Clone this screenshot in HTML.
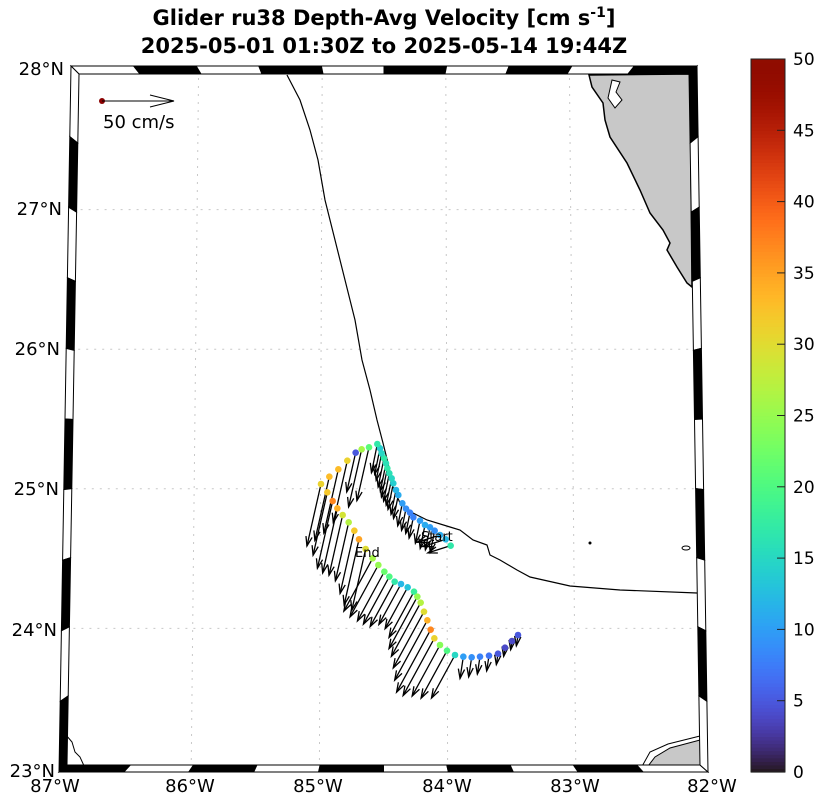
<!DOCTYPE html>
<html><head><meta charset="utf-8"><style>
html,body{margin:0;padding:0;background:#fff;}
svg{display:block;font-family:"DejaVu Sans","Liberation Sans",sans-serif;}
</style></head><body>
<svg id="s" width="816" height="796" viewBox="0 0 816 796" xmlns="http://www.w3.org/2000/svg">
<g id="grid"></g>
<g id="land"></g>
<g id="frame"></g>
<g id="arrows"></g>
<g id="dots"></g>
<text x="384" y="25" text-anchor="middle" font-size="21" font-weight="bold">Glider ru38 Depth-Avg Velocity [cm s<tspan dy="-8" font-size="14">-1</tspan><tspan dy="8">]</tspan></text>
<text x="384" y="53" text-anchor="middle" font-size="21" font-weight="bold">2025-05-01 01:30Z to 2025-05-14 19:44Z</text>
<g font-size="18" text-anchor="end">
<text x="64" y="75">28°N</text><text x="62" y="215">27°N</text><text x="60" y="355">26°N</text>
<text x="59" y="495">25°N</text><text x="57" y="636">24°N</text><text x="55" y="777">23°N</text>
</g>
<g font-size="18" text-anchor="middle">
<text x="55" y="792">87°W</text><text x="190" y="792">86°W</text><text x="318" y="792">85°W</text>
<text x="447" y="792">84°W</text><text x="575" y="792">83°W</text><text x="712" y="792">82°W</text>
</g>
<circle cx="102" cy="101" r="3" fill="#8b0000"/>
<g stroke="#000" stroke-width="1" fill="none"><line x1="102" y1="101" x2="174" y2="101"/><polyline points="150,95 174,101 150,107"/></g>
<text x="103" y="128" font-size="18">50 cm/s</text>
<g id="lab"><text x="421" y="541" font-size="13">Start</text>
<text x="355" y="557" font-size="13">End</text></g>
<g id="cb"></g>
</svg>
<script>
(function(){
const NS='http://www.w3.org/2000/svg';
function el(p,t,a){const e=document.createElementNS(NS,t);for(const k in a)e.setAttribute(k,a[k]);document.getElementById(p).appendChild(e);return e;}
function turbo(t){t=Math.max(0,Math.min(1,t));
let r=0.13572138+t*(4.61539260+t*(-42.66032258+t*(132.13108234+t*(-152.94239396+t*59.28637943))));
let g=0.09140261+t*(2.19418839+t*(4.84296658+t*(-14.18503333+t*(4.27729857+t*2.82956604))));
let b=0.10667330+t*(12.64194608+t*(-60.58204836+t*(110.36276771+t*(-89.90310912+t*27.34824973))));
const c=v=>Math.round(Math.max(0,Math.min(1,v))*255);return 'rgb('+c(r)+','+c(g)+','+c(b)+')';}
function P(lon,lat){const t=(28-lat)/5;const xl=75-12*t,xr=693+11*t;return [xl+(lon+87)/5*(xr-xl),70+t*698];}
for(let lon=-86;lon<=-83;lon++){const a=P(lon,28),b=P(lon,23);el('grid','line',{x1:a[0],y1:a[1],x2:b[0],y2:b[1],stroke:'#c8c8c8','stroke-dasharray':'2,6'});}
for(let lat=24;lat<=27;lat++){const a=P(-87,lat),b=P(-82,lat);el('grid','line',{x1:a[0],y1:a[1],x2:b[0],y2:b[1],stroke:'#c8c8c8','stroke-dasharray':'2,6'});}
el('land','path',{d:'M589,75 L592,87 L603,103 L605,120 L610,137 L627,163 L640,190 L650,213 L663,230 L670,243 L667,250 L677,267 L687,283 L692,287 L690,74 Z',fill:'#c8c8c8',stroke:'#000','stroke-width':1.5});
el('land','path',{d:'M612,80 L620,82 L616,92 L622,100 L615,108 L608,98 Z',fill:'#fff',stroke:'#000','stroke-width':1});
el('land','path',{d:'M645,770 L655,757 L670,748 L700,740 L702,770 Z',fill:'#c8c8c8',stroke:'#000','stroke-width':1});
el('land','path',{d:'M640,770 L650,752 L668,744 L700,736',fill:'none',stroke:'#000','stroke-width':1});
el('land','path',{d:'M66,735 L72,742 L75,752 L80,757 L85,768',fill:'none',stroke:'#000','stroke-width':1});
el('land','path',{d:'M287,75 L300,100 L310,130 L318,160 L325,200 L335,240 L345,280 L355,320 L362,360 L370,390 L377,420 L383,443 L388,463 L393,487 L400,503 L413,513 L427,520 L450,527 L460,530 L473,540 L487,545 L490,555 L500,560 L517,570 L530,577 L570,586 L620,590 L697,593',fill:'none',stroke:'#000','stroke-width':1.2});
el('land','circle',{cx:590,cy:543,r:1.5,fill:'#000'});el('land','ellipse',{cx:686,cy:548,rx:4,ry:2,fill:'none',stroke:'#000'});
const O=[[71,66],[697,66],[708,772],[59,772]],I=[[79,74],[689,74],[700,765],[67,765]];
function L(a,b,t){return [a[0]+(b[0]-a[0])*t,a[1]+(b[1]-a[1])*t];}
function seg(o1,o2,i1,i2,startBlack){for(let k=0;k<10;k++){const t0=k/10,t1=(k+1)/10;const p=[L(o1,o2,t0),L(o1,o2,t1),L(i1,i2,t1),L(i1,i2,t0)];
el('frame','polygon',{points:p.map(q=>q.join(',')).join(' '),fill:((k%2==0)==startBlack)?'#000':'#fff',stroke:'#000','stroke-width':1});}}
seg(O[0],O[1],I[0],I[1],false);seg(O[3],O[2],I[3],I[2],true);seg(O[0],O[3],I[0],I[3],false);seg(O[1],O[2],I[1],I[2],true);
const D=[[452,347,17],[437,328,12],[420,315,11],[404,302,9],[390,292,10],[375,285,11],[360,272,10],[340,262,8],[330,248,8],[318,236,9],[307,220,10],[295,195,11],[288,180,12],[280,160,14],[275,145,15],[268,130,16],[262,115,17],[258,100,16],[252,85,17],[245,70,15],[240,55,14],[232,42,17],
[207,52,21],[185,58,26],[167,68,5],[142,92,31],[115,118,33],[88,140,33],[63,162,31],[82,187,32],[98,213,37],[112,235,34],[128,255,29],[146,277,27],[163,302,32],[177,328,35],[197,357,30],[218,385,26],[235,405,25],[253,425,22],[268,440,20],[284,455,17],[303,462,12],[323,472,13],[342,485,18],[352,500,25],[362,518,27],[372,545,30],[382,571,34],[392,599,37],[403,625,31],[420,645,24],[441,662,20],[465,675,15],[490,680,10],[515,682,9],[540,680,8],[567,677,7],[594,671,5],[615,653,4],[636,633,4],[654,615,5]];
D.forEach((d,i)=>{const x=d[0]/3+300,y=d[1]/3+430;let dx,dy,len;
 if(i<3){dx=-0.95;dy=0.3;len=24;}
 else if(i<22){dx=-0.2;dy=0.98;len=14+d[2]*0.9;}
 else if(i<37){dx=-0.22;dy=0.97;len=36+d[2]*0.9;}
 else if(i<54){dx=-0.48;dy=0.88;len=34+d[2]*1.0;}
 else {dx=-0.15;dy=0.99;len=d[2]*2.2;}
 const x2=x+dx*len,y2=y+dy*len;const a=Math.atan2(y-y2,x-x2),h=10;
 el('arrows','line',{x1:x,y1:y,x2:x2,y2:y2,stroke:'#000','stroke-width':1.3});
 el('arrows','polyline',{points:(x2+h*Math.cos(a+0.32))+','+(y2+h*Math.sin(a+0.32))+' '+x2+','+y2+' '+(x2+h*Math.cos(a-0.32))+','+(y2+h*Math.sin(a-0.32)),fill:'none',stroke:'#000','stroke-width':1.3});
});
D.forEach(d=>{el('dots','circle',{cx:d[0]/3+300,cy:d[1]/3+430,r:3.3,fill:turbo(d[2]/50)});});
const cbTop=59,cbBot=772,cbH=cbBot-cbTop;
for(let k=0;k<200;k++){el('cb','rect',{x:751,y:cbTop+cbH*(1-(k+1)/200),width:34,height:cbH/200+0.6,fill:turbo((k+0.5)/200)});}
el('cb','rect',{x:751,y:cbTop,width:34,height:cbH,fill:'none',stroke:'#222','stroke-width':1});
for(let v=0;v<=50;v+=5){const y=cbBot-cbH*v/50;if(v>0&&v<50)el('cb','line',{x1:777,y1:y,x2:785,y2:y,stroke:'#222'});
 const t=el('cb','text',{x:793,y:y+6,'font-size':17});t.textContent=v;}
})();
</script>
</body></html>
